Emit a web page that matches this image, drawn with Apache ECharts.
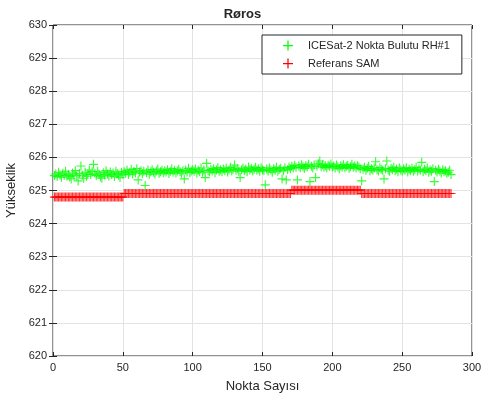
<!DOCTYPE html>
<html>
<head>
<meta charset="utf-8">
<script src="https://cdn.jsdelivr.net/npm/echarts@6/dist/echarts.min.js"></script>
<style>
  html, body { margin: 0; padding: 0; background: #ffffff; }
  #chart { width: 485px; height: 405px; }
</style>
</head>
<body>
<div id="chart"></div>
<script>
// Point heights (m) along the track, one value per point number (1..285)
const icesatHeights = [
  625.45, 625.50, 625.42, 625.55, 625.47, 625.40, 625.52, 625.46, 625.58, 625.44,
  625.49, 625.41, 625.35, 625.53, 625.47, 625.60, 625.44, 625.29, 625.51, 625.74,
  625.46, 625.37, 625.55, 625.43, 625.50, 625.62, 625.48, 625.57, 625.79, 625.52,
  625.45, 625.58, 625.49, 625.41, 625.37, 625.54, 625.47, 625.60, 625.50, 625.44,
  625.56, 625.48, 625.53, 625.42, 625.58, 625.51, 625.46, 625.39, 625.55, 625.49,
  625.57, 625.52, 625.61, 625.48, 625.55, 625.64, 625.50, 625.58, 625.53, 625.66,
  625.32, 625.56, 625.60, 625.51, 625.58, 625.15, 625.54, 625.62, 625.49, 625.57,
  625.63, 625.55, 625.50, 625.59, 625.65, 625.52, 625.57, 625.61, 625.54, 625.60,
  625.56, 625.63, 625.51, 625.58, 625.66, 625.55, 625.61, 625.53, 625.59, 625.64,
  625.57, 625.52, 625.60, 625.35, 625.62, 625.56, 625.67, 625.54, 625.59, 625.63,
  625.58, 625.65, 625.53, 625.61, 625.57, 625.68, 625.55, 625.62, 625.39, 625.82,
  625.60, 625.56, 625.64, 625.59, 625.66, 625.54, 625.62, 625.69, 625.58, 625.63,
  625.57, 625.65, 625.60, 625.67, 625.56, 625.62, 625.70, 625.59, 625.64, 625.77,
  625.61, 625.66, 625.58, 625.39, 625.63, 625.68, 625.60, 625.65, 625.57, 625.71,
  625.62, 625.67, 625.59, 625.64, 625.70, 625.61, 625.66, 625.58, 625.69, 625.63,
  625.60, 625.17, 625.65, 625.59, 625.68, 625.62, 625.55, 625.66, 625.61, 625.70,
  625.58, 625.64, 625.67, 625.35, 625.60, 625.69, 625.32, 625.63, 625.71, 625.66,
  625.73, 625.68, 625.76, 625.70, 625.32, 625.74, 625.69, 625.78, 625.72, 625.67,
  625.75, 625.71, 625.79, 625.27, 625.73, 625.68, 625.77, 625.39, 625.74, 625.81,
  625.89, 625.72, 625.78, 625.70, 625.75, 625.69, 625.76, 625.73, 625.80, 625.71,
  625.74, 625.68, 625.77, 625.72, 625.66, 625.75, 625.70, 625.78, 625.69, 625.73,
  625.76, 625.67, 625.72, 625.79, 625.70, 625.74, 625.68, 625.75, 625.71, 625.66,
  625.29, 625.64, 625.70, 625.61, 625.67, 625.73, 625.60, 625.66, 625.62, 625.68,
  625.87, 625.63, 625.59, 625.69, 625.64, 625.61, 625.35, 625.66, 625.89, 625.62,
  625.58, 625.67, 625.63, 625.70, 625.60, 625.65, 625.57, 625.68, 625.62, 625.59,
  625.66, 625.61, 625.69, 625.56, 625.64, 625.60, 625.67, 625.58, 625.63, 625.70,
  625.59, 625.65, 625.61, 625.85, 625.57, 625.64, 625.60, 625.68, 625.55, 625.62,
  625.58, 625.66, 625.27, 625.61, 625.56, 625.64, 625.59, 625.53, 625.63, 625.57,
  625.60, 625.52, 625.55, 625.61, 625.48
];

const samHeights = [
  624.80, 624.80, 624.80, 624.80, 624.80, 624.80, 624.80, 624.80, 624.80, 624.80,
  624.80, 624.80, 624.80, 624.80, 624.80, 624.80, 624.80, 624.80, 624.80, 624.80,
  624.80, 624.80, 624.80, 624.80, 624.80, 624.80, 624.80, 624.80, 624.80, 624.80,
  624.80, 624.80, 624.80, 624.80, 624.80, 624.80, 624.80, 624.80, 624.80, 624.80,
  624.80, 624.80, 624.80, 624.80, 624.80, 624.80, 624.80, 624.80, 624.80, 624.80,
  624.91, 624.91, 624.91, 624.91, 624.91, 624.91, 624.91, 624.91, 624.91, 624.91,
  624.91, 624.91, 624.91, 624.91, 624.91, 624.91, 624.91, 624.91, 624.91, 624.91,
  624.91, 624.91, 624.91, 624.91, 624.91, 624.91, 624.91, 624.91, 624.91, 624.91,
  624.91, 624.91, 624.91, 624.91, 624.91, 624.91, 624.91, 624.91, 624.91, 624.91,
  624.91, 624.91, 624.91, 624.91, 624.91, 624.91, 624.91, 624.91, 624.91, 624.91,
  624.91, 624.91, 624.91, 624.91, 624.91, 624.91, 624.91, 624.91, 624.91, 624.91,
  624.91, 624.91, 624.91, 624.91, 624.91, 624.91, 624.91, 624.91, 624.91, 624.91,
  624.91, 624.91, 624.91, 624.91, 624.91, 624.91, 624.91, 624.91, 624.91, 624.91,
  624.91, 624.91, 624.91, 624.91, 624.91, 624.91, 624.91, 624.91, 624.91, 624.91,
  624.91, 624.91, 624.91, 624.91, 624.91, 624.91, 624.91, 624.91, 624.91, 624.91,
  624.91, 624.91, 624.91, 624.91, 624.91, 624.91, 624.91, 624.91, 624.91, 624.91,
  624.91, 624.91, 624.91, 624.91, 624.91, 624.91, 624.91, 624.91, 624.91, 624.91,
  625.01, 625.01, 625.01, 625.01, 625.01, 625.01, 625.01, 625.01, 625.01, 625.01,
  625.01, 625.01, 625.01, 625.01, 625.01, 625.01, 625.01, 625.01, 625.01, 625.01,
  625.01, 625.01, 625.01, 625.01, 625.01, 625.01, 625.01, 625.01, 625.01, 625.01,
  625.01, 625.01, 625.01, 625.01, 625.01, 625.01, 625.01, 625.01, 625.01, 625.01,
  625.01, 625.01, 625.01, 625.01, 625.01, 625.01, 625.01, 625.01, 625.01, 625.01,
  624.91, 624.91, 624.91, 624.91, 624.91, 624.91, 624.91, 624.91, 624.91, 624.91,
  624.91, 624.91, 624.91, 624.91, 624.91, 624.91, 624.91, 624.91, 624.91, 624.91,
  624.91, 624.91, 624.91, 624.91, 624.91, 624.91, 624.91, 624.91, 624.91, 624.91,
  624.91, 624.91, 624.91, 624.91, 624.91, 624.91, 624.91, 624.91, 624.91, 624.91,
  624.91, 624.91, 624.91, 624.91, 624.91, 624.91, 624.91, 624.91, 624.91, 624.91,
  624.91, 624.91, 624.91, 624.91, 624.91, 624.91, 624.91, 624.91, 624.91, 624.91,
  624.91, 624.91, 624.91, 624.91, 624.91
];

const xTicks = [0, 50, 100, 150, 200, 250, 300];
const yTicks = [620, 621, 622, 623, 624, 625, 626, 627, 628, 629, 630];
const seriesNames = ['ICESat-2 Nokta Bulutu RH#1', 'Referans SAM'];
const seriesColors = ['#00ff00', '#ff0000'];

// Thin "+" marker as a filled outline
const plusSymbol = 'path://M3.5,0H4.5V3.5H8V4.5H4.5V8H3.5V4.5H0V3.5H3.5Z';

const toPoints = arr => arr.map((v, i) => [i + 1, v]);

const axisColor = '#262626';
const gridColor = '#e3e3e3';
const fontFamily = '"Liberation Sans", Arial, sans-serif';

function xAxisCfg(pos, showLabels) {
  return {
    type: 'value', position: pos,
    min: xTicks[0], max: xTicks[xTicks.length - 1], interval: 50,
    axisLine: { show: false },
    axisTick: { show: true, inside: true, length: 4, lineStyle: { color: axisColor } },
    axisLabel: { show: showLabels, color: axisColor, fontSize: 11, fontFamily, margin: 6 },
    splitLine: { show: showLabels, lineStyle: { color: gridColor, width: 1 } },
    name: showLabels ? 'Nokta Sayısı' : '',
    nameLocation: 'middle', nameGap: 24,
    nameTextStyle: { color: axisColor, fontSize: 13, fontFamily }
  };
}
function yAxisCfg(pos, showLabels) {
  return {
    type: 'value', position: pos,
    min: yTicks[0], max: yTicks[yTicks.length - 1], interval: 1,
    axisLine: { show: false },
    axisTick: { show: true, inside: true, length: 4, lineStyle: { color: axisColor } },
    axisLabel: { show: showLabels, color: axisColor, fontSize: 11, fontFamily, margin: 6 },
    splitLine: { show: showLabels, lineStyle: { color: gridColor, width: 1 } },
    name: showLabels ? 'Yükseklik' : '',
    nameLocation: 'middle', nameGap: 35,
    nameTextStyle: { color: axisColor, fontSize: 13, fontFamily }
  };
}

const chart = echarts.init(document.getElementById('chart'), null, { renderer: 'canvas' });
chart.setOption({
  animation: false,
  backgroundColor: '#ffffff',
  title: {
    text: 'Røros', left: 'center', top: 3,
    textStyle: { fontSize: 13, fontWeight: 'bold', color: axisColor, fontFamily }
  },
  grid: {
    left: 53, right: 13, top: 25, bottom: 49,
    outerBoundsMode: 'none', containLabel: false,
    show: true, borderColor: axisColor, borderWidth: 1, backgroundColor: 'transparent'
  },
  legend: {
    orient: 'vertical', left: 262, top: 35,
    padding: [5, 12, 5, 21], itemGap: 7,
    itemWidth: 10, itemHeight: 10,
    icon: plusSymbol,
    itemStyle: { color: 'inherit', borderWidth: 0, opacity: 1 },
    backgroundColor: '#ffffff', borderColor: axisColor, borderWidth: 1, borderRadius: 0,
    textStyle: { fontSize: 11, color: axisColor, fontFamily, padding: [0, 0, 0, 10] },
    data: seriesNames
  },
  xAxis: [xAxisCfg('bottom', true), xAxisCfg('top', false)],
  yAxis: [yAxisCfg('left', true), yAxisCfg('right', false)],
  series: [
    {
      name: seriesNames[1], type: 'scatter',
      symbol: plusSymbol, symbolSize: 9,
      itemStyle: { color: seriesColors[1] },
      data: toPoints(samHeights)
    },
    {
      name: seriesNames[0], type: 'scatter',
      symbol: plusSymbol, symbolSize: 9,
      itemStyle: { color: seriesColors[0] },
      data: toPoints(icesatHeights)
    }
  ]
});
</script>
</body>
</html>
